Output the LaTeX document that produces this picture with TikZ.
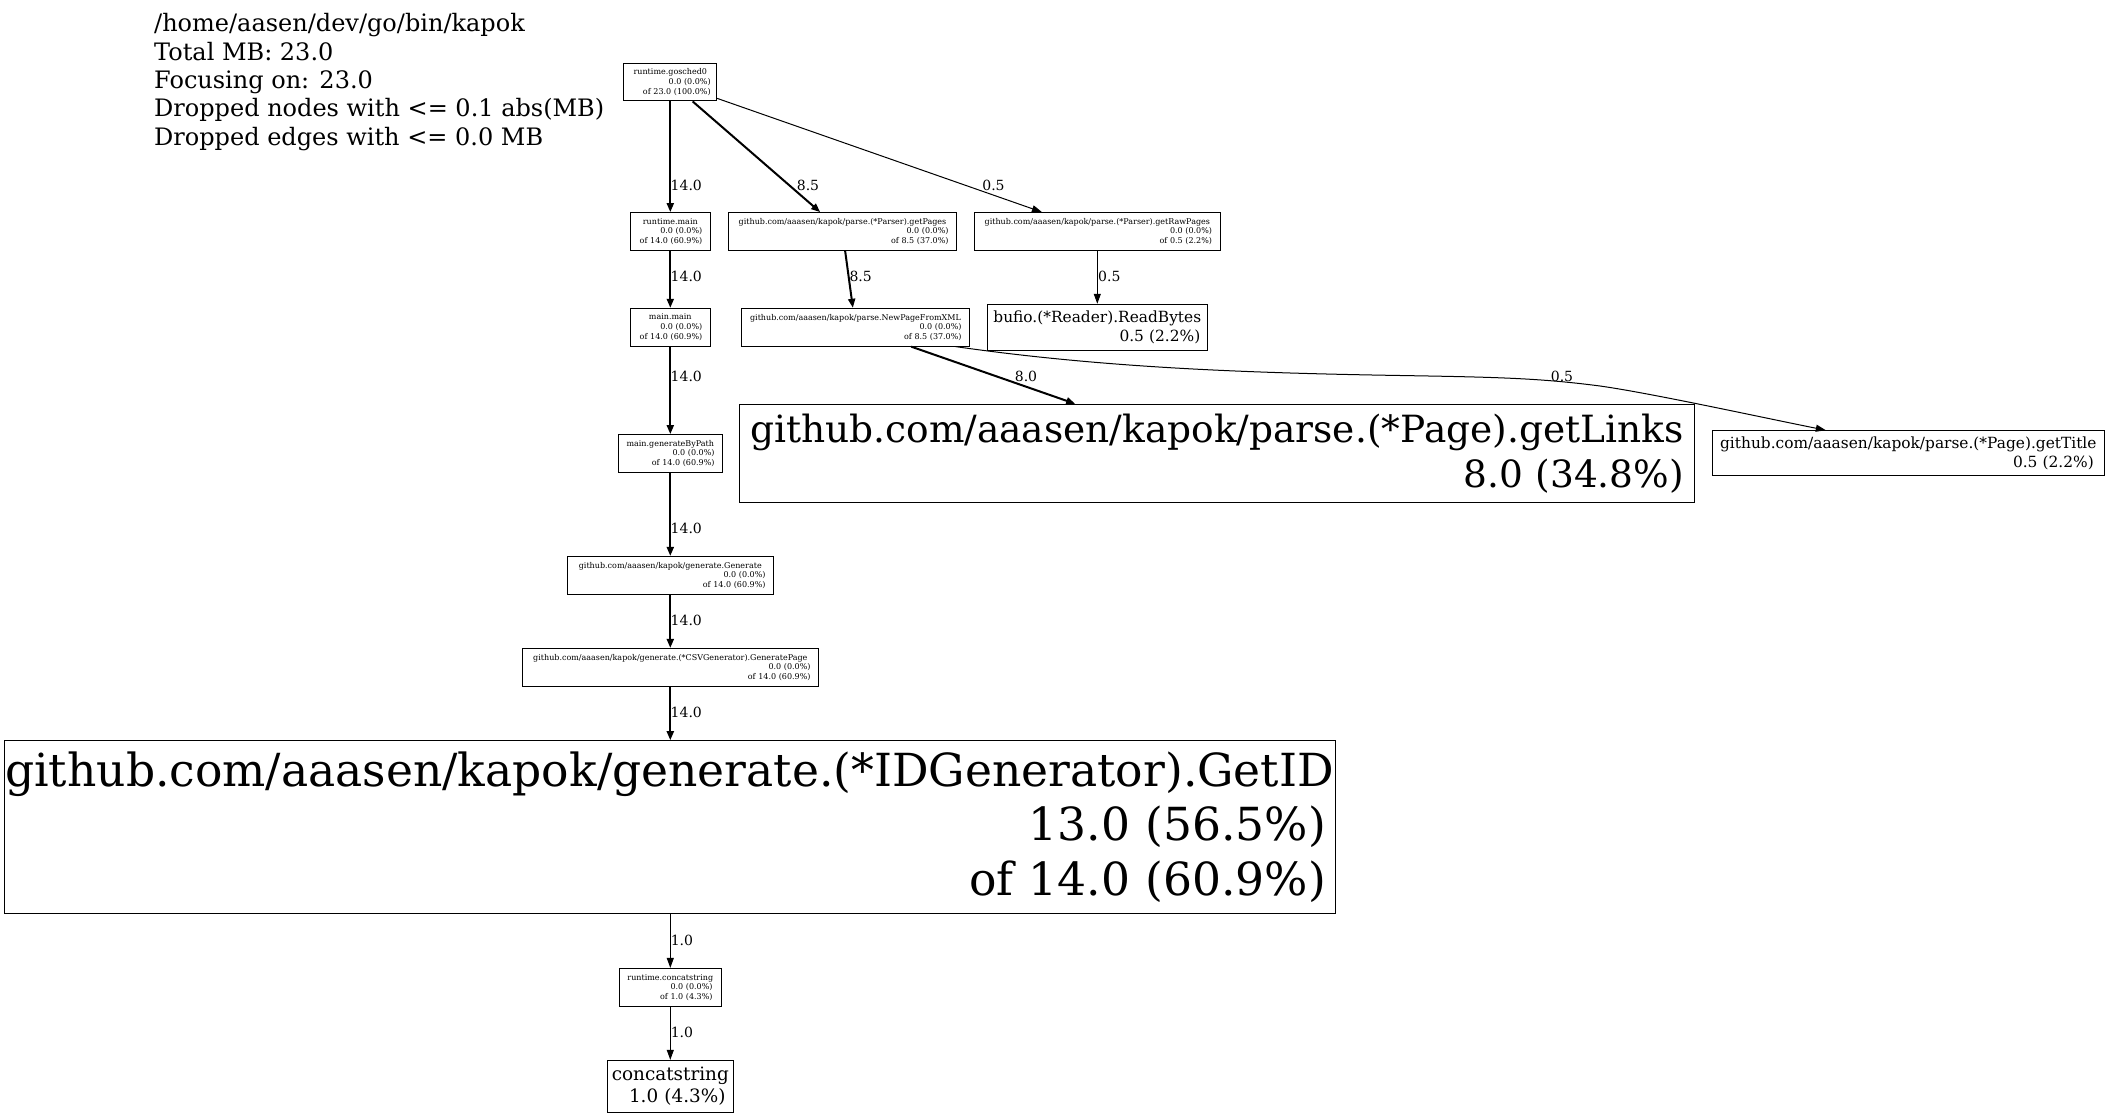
\documentclass[tikz,border=0pt]{standalone}
\usepackage{fontspec}
\setmainfont{DejaVu Serif}
\usetikzlibrary{arrows.meta,calc}

\newcommand\fname[1]{\makebox[\hsize][c]{#1}}

\tikzset{
  fn/.style={draw, line width=1pt, inner ysep=0pt, inner xsep=8pt, align=right, minimum height=37.8pt,
    font=\fontsize{8}{9.6}\selectfont},
  hot/.style={line width=2pt, -{Triangle[length=9pt,width=7pt]}},
  cold/.style={line width=1pt, -{Triangle[length=10pt,width=7pt]}},
  lbl/.style={inner sep=0pt, font=\fontsize{14}{16.8}\selectfont}
}

\begin{document}
\begin{tikzpicture}[x=1pt, y=-1pt]
          \useasboundingbox (0,0) rectangle (2110,1118);

          \node[anchor=north west, align=left, inner sep=0pt, font=\fontsize{24}{28.3}\selectfont] (legend) at (154,13.5)
            {/home/aasen/dev/go/bin/kapok\\Total MB: 23.0\\Focusing on: 23.0\\Dropped nodes with <= 0.1 abs(MB)\\Dropped edges with <= 0.0 MB};

          \node[fn, inner xsep=6pt, text width=80.7pt] (gosched) at (670.3,82) {\fname{runtime.gosched0}\\0.0 (0.0\%)\\of 23.0 (100.0\%)};
          \node[fn, text width=64pt] (rmain) at (670.3,231.5) {\fname{runtime.main}\\0.0 (0.0\%)\\of 14.0 (60.9\%)};
          \node[fn, text width=212.1pt] (getpages) at (842.5,231.5) {\fname{github.com/aaasen/kapok/parse.(*Parser).getPages}\\0.0 (0.0\%)\\of 8.5 (37.0\%)};
          \node[fn, text width=229.4pt] (getrawpages) at (1097.3,231.5) {\fname{github.com/aaasen/kapok/parse.(*Parser).getRawPages}\\0.0 (0.0\%)\\of 0.5 (2.2\%)};
          \node[fn, text width=64pt] (mainmain) at (670.3,327.2) {\fname{main.main}\\0.0 (0.0\%)\\of 14.0 (60.9\%)};
          \node[fn, text width=212.1pt] (newpage) at (855.5,327.2) {\fname{github.com/aaasen/kapok/parse.NewPageFromXML}\\0.0 (0.0\%)\\of 8.5 (37.0\%)};
          \node[fn, inner xsep=7pt, text width=206pt, minimum height=46.4pt, font=\fontsize{15.4}{18.5}\selectfont] (readbytes) at (1097.3,327.5) {\fname{bufio.(*Reader).ReadBytes}\\0.5 (2.2\%)};
          \node[fn, text width=88.4pt] (genbypath) at (670.3,453.5) {\fname{main.generateByPath}\\0.0 (0.0\%)\\of 14.0 (60.9\%)};
          \node[fn, inner xsep=10pt, text width=934.5pt, minimum height=98pt, font=\fontsize{37.5}{45}\selectfont] (getlinks) at (1216.8,453.3) {\fname{github.com/aaasen/kapok/parse.(*Page).getLinks}\\8.0 (34.8\%)};
          \node[fn, inner xsep=10.5pt, text width=371pt, minimum height=45pt, font=\fontsize{15.4}{18.5}\selectfont] (gettitle) at (1908.3,453.2) {\fname{github.com/aaasen/kapok/parse.(*Page).getTitle}\\0.5 (2.2\%)};
          \node[fn, text width=190.4pt] (generate) at (670.3,575.3) {\fname{github.com/aaasen/kapok/generate.Generate}\\0.0 (0.0\%)\\of 14.0 (60.9\%)};
          \node[fn, text width=280.4pt] (genpage) at (670.3,667.3) {\fname{github.com/aaasen/kapok/generate.(*CSVGenerator).GeneratePage}\\0.0 (0.0\%)\\of 14.0 (60.9\%)};
          \node[fn, inner xsep=9pt, text width=1313pt, minimum height=172.6pt, font=\fontsize{45.6}{54.7}\selectfont] (getid) at (669.5,827) {\fname{github.com/aaasen/kapok/generate.(*IDGenerator).GetID}\\13.0 (56.5\%)\\of 14.0 (60.9\%)};
          \node[fn, inner xsep=9pt, text width=84.4pt] (rconcat) at (670.3,987.3) {\fname{runtime.concatstring}\\0.0 (0.0\%)\\of 1.0 (4.3\%)};
          \node[fn, inner xsep=8pt, text width=110.4pt, minimum height=51.7pt, font=\fontsize{18.4}{22}\selectfont] (concat) at (670.3,1086.2) {\fname{concatstring}\\1.0 (4.3\%)};

          \draw[hot] (gosched) -- (rmain);
          \draw[hot] (gosched) -- (getpages);
          \draw[cold] (gosched) -- (getrawpages);
          \draw[hot] (rmain) -- (mainmain);
          \draw[hot] (getpages) -- (newpage);
          \draw[cold] (getrawpages) -- (readbytes);
          \draw[hot] (mainmain) -- (genbypath);
          \draw[hot] (newpage) -- (getlinks);
          \draw[cold] ($(newpage.south east)+(-14.5,0)$) .. controls (1105,368) and (1250,373) .. (1400,375.5)
            .. controls (1500,377.2) and (1540,378.2) .. (1600,386)
            .. controls (1650,393) and (1760,417) .. ($(gettitle.north west)+(114,0)$);
          \draw[hot] (genbypath) -- (generate);
          \draw[hot] (generate) -- (genpage);
          \draw[hot] (genpage) -- (getid.north -| genpage.south);
          \draw[cold] (getid.south -| rconcat.north) -- (rconcat);
          \draw[cold] (rconcat) -- (concat);

          \node[lbl] (l-rmain) at (686.3,185) {14.0};
          \node[lbl] (l-getpages) at (808,185) {8.5};
          \node[lbl] (l-getrawpages) at (993.5,185) {0.5};
          \node[lbl] (l-mainmain) at (686.3,276.7) {14.0};
          \node[lbl] (l-newpage) at (860.7,276.7) {8.5};
          \node[lbl] (l-readbytes) at (1109.3,276.7) {0.5};
          \node[lbl] (l-getlinks) at (1026,376.7) {8.0};
          \node[lbl] (l-gettitle) at (1562,376.7) {0.5};
          \node[lbl] (l-genbypath) at (686.3,376.7) {14.0};
          \node[lbl] (l-generate) at (686.3,528.3) {14.0};
          \node[lbl] (l-genpage) at (686.3,620) {14.0};
          \node[lbl] (l-getid) at (686.3,712.3) {14.0};
          \node[lbl] (l-rconcat) at (681.9,940.7) {1.0};
          \node[lbl] (l-concat) at (681.9,1032.7) {1.0};
        \end{tikzpicture}
\end{document}
